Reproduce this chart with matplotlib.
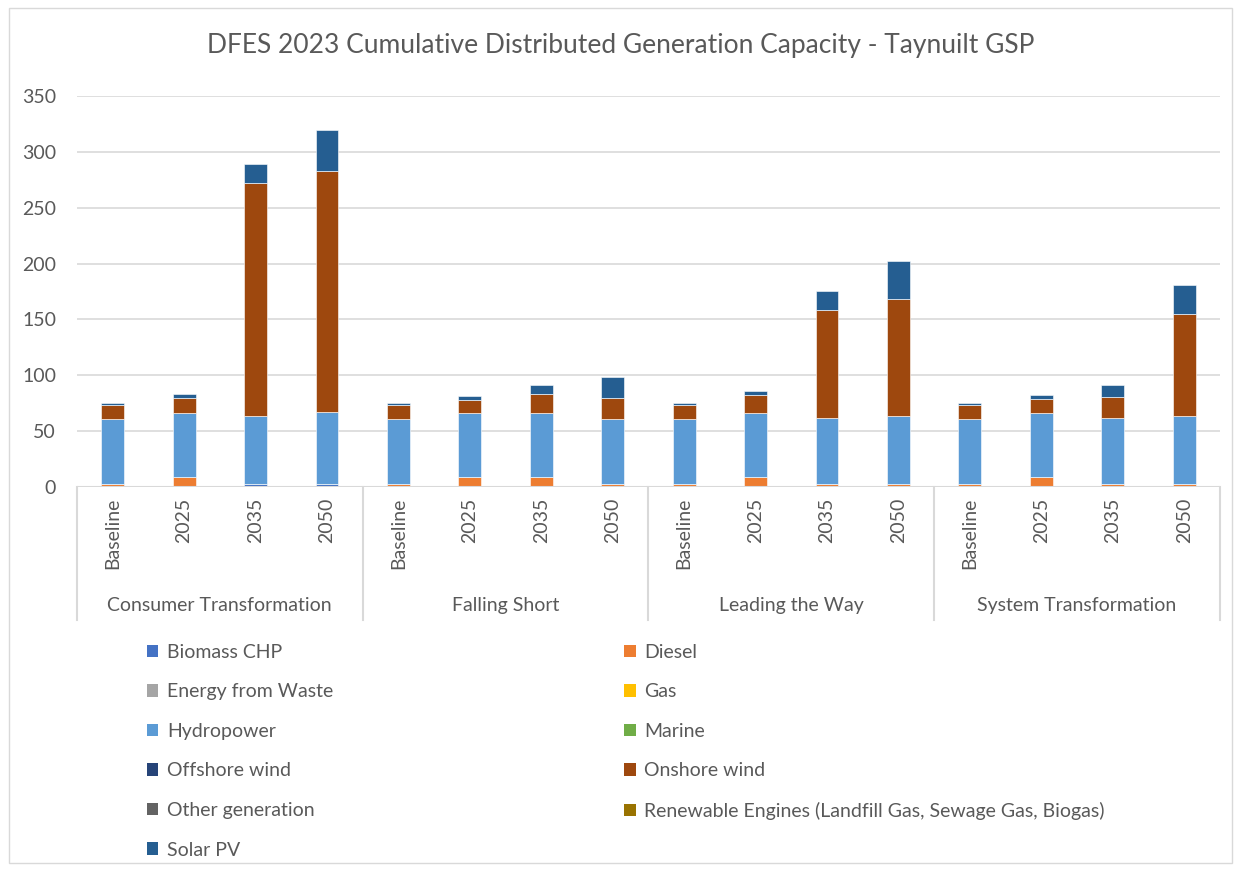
import matplotlib
matplotlib.use("Agg")
import matplotlib.pyplot as plt
from matplotlib.patches import Patch, Rectangle
import numpy as np

plt.rcParams['font.family'] = ['Lato', 'DejaVu Sans']

# scenario groups and years (x axis)
scenarios = ["Consumer Transformation", "Falling Short", "Leading the Way", "System Transformation"]
years = ["Baseline", "2025", "2035", "2050"]

# capacity by technology, 16 bars (4 scenarios x 4 years), MW
biomass_chp = [0, 0, 2.5, 2.5, 0, 0, 0, 0, 0, 0, 0, 0, 0, 0, 0, 0]
diesel = [2.5, 8.7, 0, 0, 2.5, 8.7, 8.7, 2.5, 2.5, 8.7, 2.5, 2.5, 2.5, 8.7, 2.5, 2.5]
energy_from_waste = [0] * 16
gas = [0] * 16
hydropower = [58.5, 57.3, 61.3, 64.5, 58.5, 57.3, 57.3, 58.5,
              58.5, 57.3, 59.5, 61.3, 58.5, 57.3, 59.5, 61.3]
marine = [0] * 16
offshore_wind = [0] * 16
onshore_wind = [12.2, 14.0, 208.6, 215.6, 12.2, 12.2, 17.0, 19.0,
                12.2, 16.0, 96.7, 104.8, 12.2, 12.8, 18.9, 91.1]
other_generation = [0] * 16
renewable_engines = [0] * 16
solar_pv = [1.8, 3.3, 16.6, 37.3, 1.8, 3.0, 8.3, 18.2,
            1.8, 4.0, 17.1, 33.4, 1.8, 3.2, 10.1, 25.9]

series = [
    ("Biomass CHP", biomass_chp, "#4472C4"),
    ("Diesel", diesel, "#ED7D31"),
    ("Energy from Waste", energy_from_waste, "#A5A5A5"),
    ("Gas", gas, "#FFC000"),
    ("Hydropower", hydropower, "#5B9BD5"),
    ("Marine", marine, "#70AD47"),
    ("Offshore wind", offshore_wind, "#264478"),
    ("Onshore wind", onshore_wind, "#9E480E"),
    ("Other generation", other_generation, "#636363"),
    ("Renewable Engines (Landfill Gas, Sewage Gas, Biogas)", renewable_engines, "#997300"),
    ("Solar PV", solar_pv, "#255E91"),
]

txt = "#595959"
grid = "#D9D9D9"

fig = plt.figure(figsize=(12.41, 8.71), dpi=100)
fig.patches.append(Rectangle((0.007, 0.009), 0.986, 0.982, transform=fig.transFigure,
                             fill=False, edgecolor=grid, linewidth=1.0))
ax = fig.add_axes([0.062, 0.4409, 0.921, 0.4489])

x = np.arange(len(scenarios) * len(years))
bottom = np.zeros(len(x))
for name, vals, col in series:
    vals = np.array(vals, dtype=float)
    ax.bar(x, vals, width=0.32, bottom=bottom, color=col, edgecolor="white",
           linewidth=0.4, zorder=3)
    bottom += vals

ax.set_xlim(-0.5, len(x) - 0.5)
ax.set_ylim(0, 350)
ax.set_yticks(np.arange(0, 351, 50))
ax.yaxis.grid(True, color=grid, linewidth=1.2, zorder=0)
ax.tick_params(axis='y', length=0, labelsize=14, labelcolor=txt, pad=15)
for s in ax.spines.values():
    s.set_visible(False)

ax.set_xticks(x)
ax.set_xticklabels(years * len(scenarios), rotation=90, fontsize=14, color=txt)
ax.tick_params(axis='x', length=0, pad=8)

# x axis line and group separators
ax.axhline(0, color=grid, linewidth=1.5, zorder=4)
for b in np.arange(len(scenarios) + 1) * len(years) - 0.5:
    ax.plot([b, b], [0, -0.34], color=grid, linewidth=1.5,
            transform=ax.get_xaxis_transform(), clip_on=False)
for i, sc in enumerate(scenarios):
    ax.text(i * len(years) + 1.5, -0.304, sc, transform=ax.get_xaxis_transform(),
            ha='center', va='center', fontsize=14, color=txt)

fig.text(0.5, 0.948, "DFES 2023 Cumulative Distributed Generation Capacity - Taynuilt GSP",
         ha='center', va='center', fontsize=19, color=txt)

handles = [Patch(facecolor=c, edgecolor='none') for _, _, c in series]
labels = [n for n, _, _ in series]
order = [0, 2, 4, 6, 8, 10, 1, 3, 5, 7, 9]
leg = fig.legend([handles[i] for i in order], [labels[i] for i in order],
                 ncol=2, loc='upper left', bbox_to_anchor=(0.104, 0.281),
                 frameon=False, fontsize=14, handlelength=0.6, handleheight=0.6,
                 handletextpad=0.45, labelspacing=1.16, columnspacing=14.95)
for t in leg.get_texts():
    t.set_color(txt)

fig.savefig("out.png", dpi=100)
